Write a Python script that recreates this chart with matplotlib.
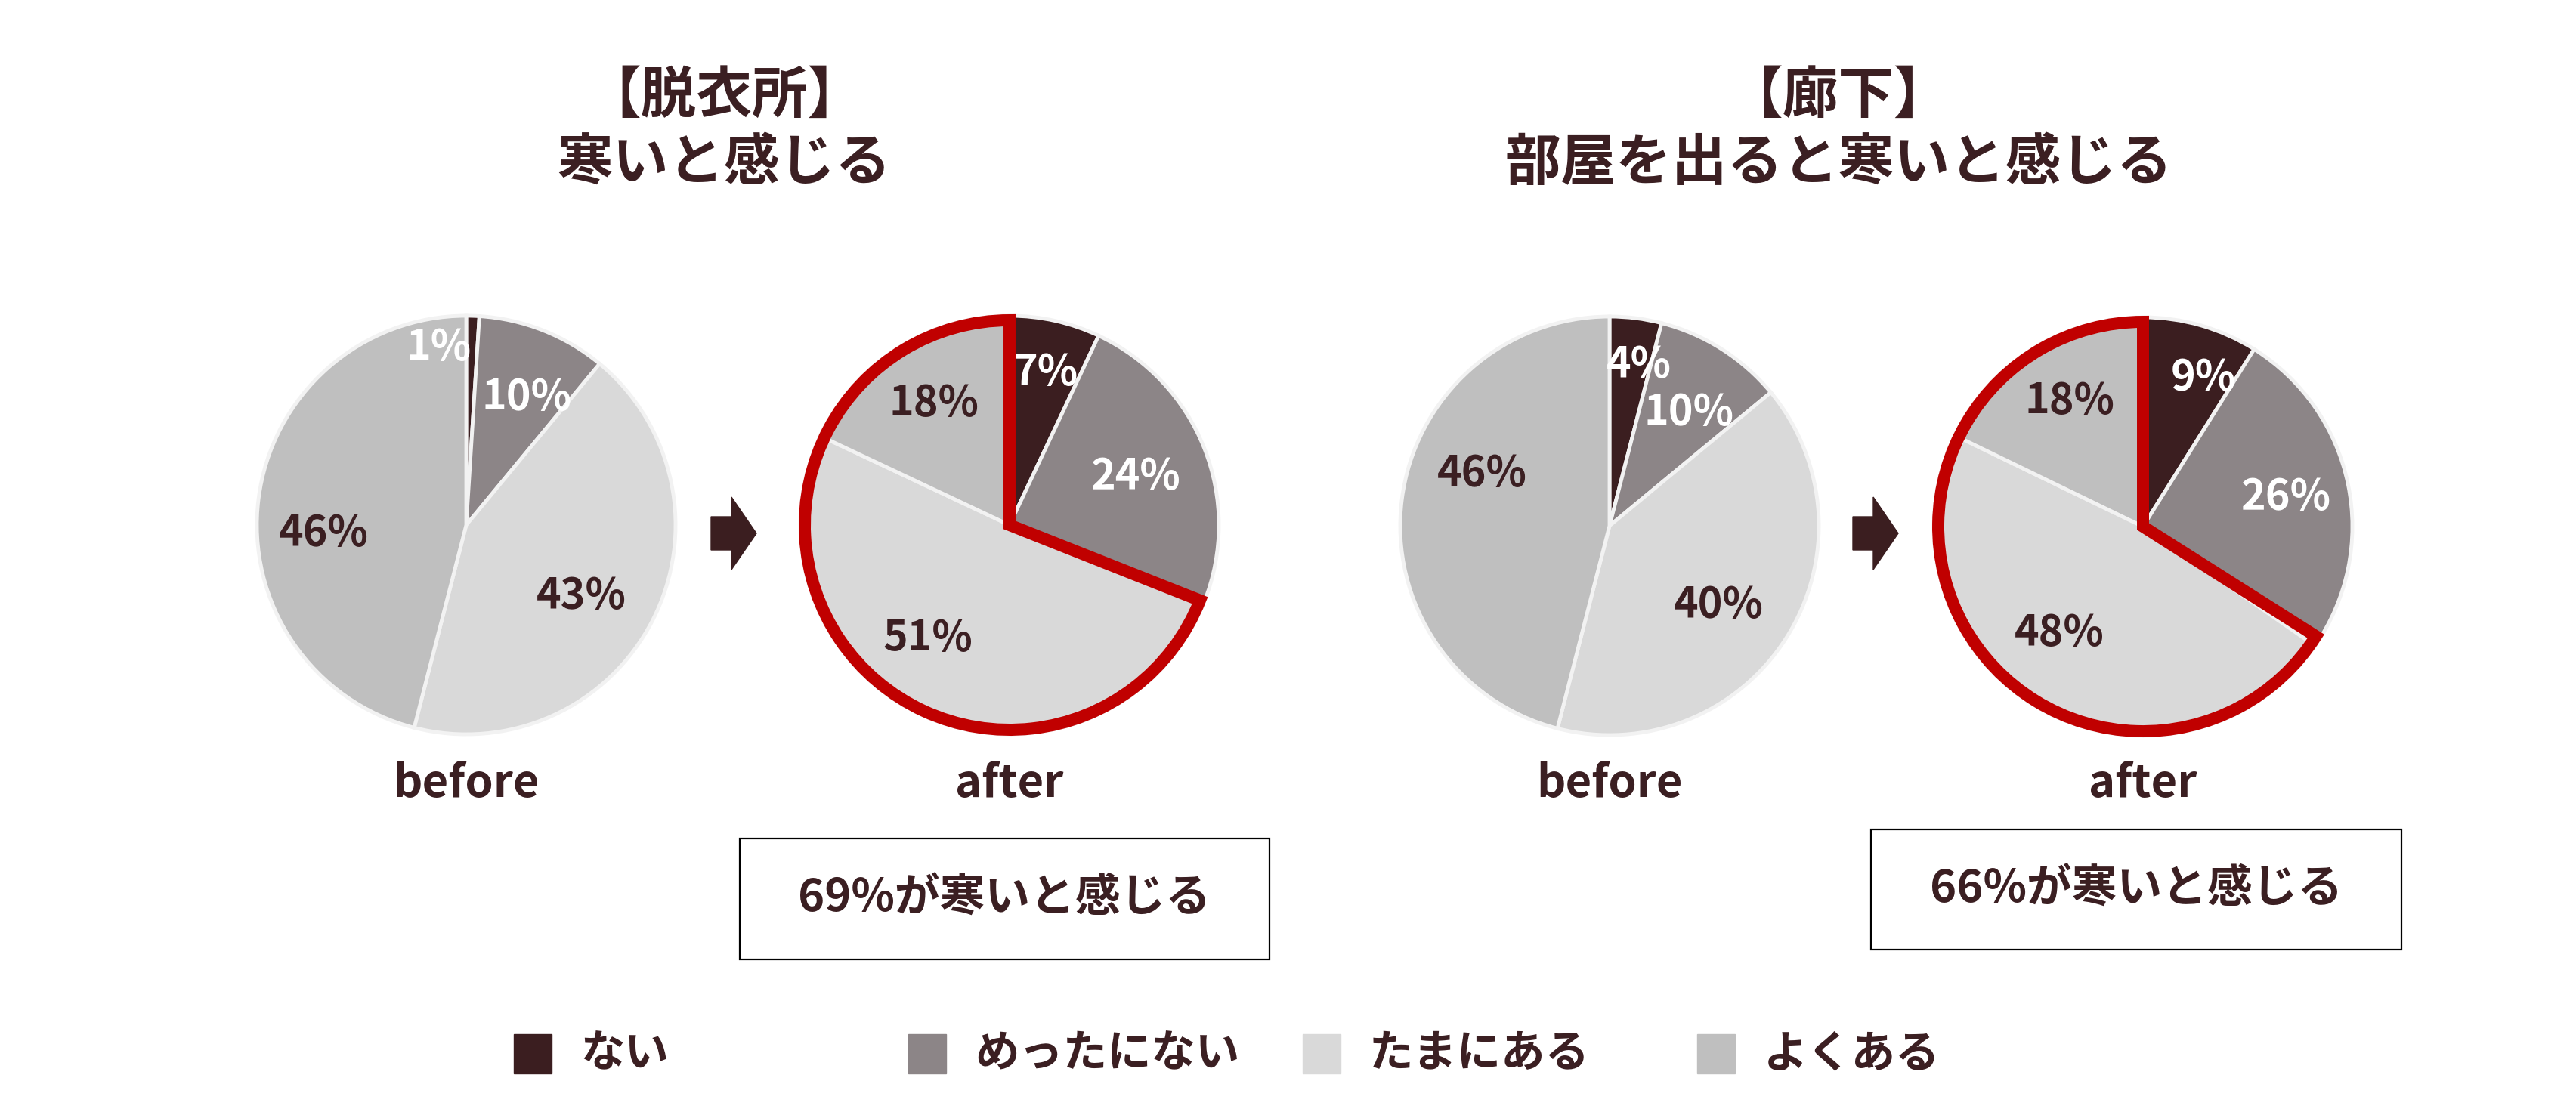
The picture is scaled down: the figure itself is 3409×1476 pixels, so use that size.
import matplotlib.pyplot as plt
from matplotlib.patches import Wedge, Rectangle, Polygon

plt.rcParams['font.family'] = ['Noto Sans CJK JP', 'DejaVu Sans']

# ------------------------------
# data
# ------------------------------
categories = ["ない", "めったにない", "たまにある", "よくある"]
colors = ["#3B1E20", "#8C8587", "#D9D9D9", "#BFBFBF"]
label_colors = ["white", "white", "#3B1F22", "#3B1F22"]

titles = ["【脱衣所】\n寒いと感じる", "【廊下】\n部屋を出ると寒いと感じる"]
datsuijo_before = [1, 10, 43, 46]
datsuijo_after = [7, 24, 51, 18]
rouka_before = [4, 10, 40, 46]
rouka_after = [9, 26, 48, 18]

# ------------------------------
# layout (pixels, image coords: y down)
# ------------------------------
W, H = 3409, 1476
TXT = "#3B1F22"
R = 277

pies = [
    # values, center, label offsets (in radius units, y up)
    (datsuijo_before, (617, 695), [(-0.13, 0.85), (0.29, 0.61), (0.55, -0.34), (-0.68, -0.04)]),
    (datsuijo_after, (1336, 695), [(0.17, 0.73), (0.60, 0.23), (-0.39, -0.54), (-0.36, 0.58)]),
    (rouka_before, (2130, 696), [(0.14, 0.77), (0.38, 0.54), (0.52, -0.38), (-0.61, 0.25)]),
    (rouka_after, (2836, 697), [(0.29, 0.71), (0.68, 0.14), (-0.40, -0.51), (-0.35, 0.60)]),
]
pie_names = ["before", "after", "before", "after"]

fig = plt.figure(figsize=(W / 100, H / 100), dpi=100)
ax = fig.add_axes([0, 0, 1, 1])


def Y(y):
    return H - y


for (vals, (cx, cy), offs), name in zip(pies, pie_names):
    ax.pie(vals, colors=colors, startangle=90, counterclock=False,
           center=(cx, Y(cy)), radius=R, frame=True,
           wedgeprops=dict(edgecolor="#F2F2F2", linewidth=3.5))
    for v, (dx, dy), c in zip(vals, offs, label_colors):
        ax.text(cx + dx * R, Y(cy) + dy * R, f"{v}%", color=c, fontsize=40,
                fontweight="bold", ha="center", va="center")
    ax.text(cx, Y(1038), name, color=TXT, fontsize=43, fontweight="bold",
            ha="center", va="center")
    if name == "after":
        # red outline around たまにある + よくある
        share = vals[2] + vals[3]
        ax.add_patch(Wedge((cx, Y(cy)), R - 6, 90, 90 + 360 * share / 100,
                           fill=False, edgecolor="#C00000", linewidth=11.5,
                           joinstyle="miter", zorder=5))

# titles
for t, x in zip(titles, [958, 2433]):
    ax.text(x, Y(172), t, color=TXT, fontsize=53, fontweight="bold",
            ha="center", va="center", linespacing=1.25)

# arrows
for x0 in [941, 2452]:
    cy = 706
    ax.add_patch(Polygon([(x0, Y(cy - 22)), (x0 + 27, Y(cy - 22)), (x0 + 27, Y(cy - 48)),
                          (x0 + 60, Y(cy)), (x0 + 27, Y(cy + 48)), (x0 + 27, Y(cy + 22)),
                          (x0, Y(cy + 22))], closed=True, color="#3B1E20"))

# summary boxes
boxes = [((979, 1110, 1680, 1270), datsuijo_after), ((2476, 1098, 3178, 1257), rouka_after)]
for (x1, y1, x2, y2), vals in boxes:
    ax.add_patch(Rectangle((x1, Y(y2)), x2 - x1, y2 - y1, fill=False,
                           edgecolor="black", linewidth=1.6))
    ax.text((x1 + x2) / 2, Y((y1 + y2) / 2), f"{vals[2] + vals[3]}%が寒いと感じる",
            color=TXT, fontsize=43, fontweight="bold", ha="center", va="center")

# legend
for i, (cat, col) in enumerate(zip(categories, colors)):
    x = 680 + i * 522
    ax.add_patch(Rectangle((x, Y(1421)), 50, 52, color=col))
    ax.text(x + 88, Y(1395), cat, color=TXT, fontsize=42, fontweight="bold",
            ha="left", va="center")

ax.set_xlim(0, W)
ax.set_ylim(0, H)
ax.set_aspect("equal")
ax.axis("off")

fig.savefig("out.png", dpi=100, facecolor="white")
